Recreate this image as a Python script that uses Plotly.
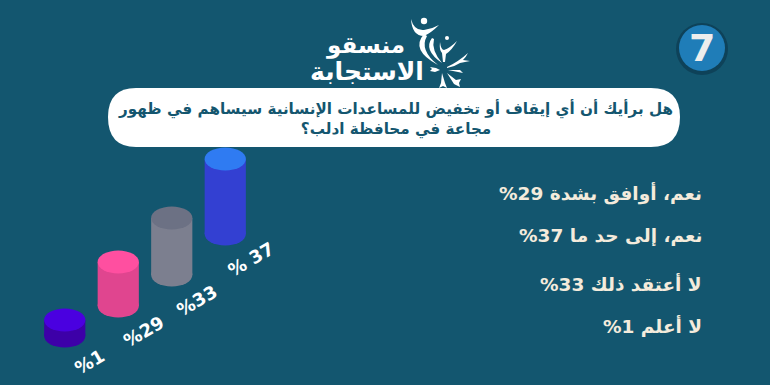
import plotly.graph_objects as go

# ---- data ----
answers = ["لا أعلم", "نعم، أوافق بشدة", "لا أعتقد ذلك", "نعم، إلى حد ما"]
bar_labels = ["%1", "%29", "%33", "% 37"]
drawn_heights = [16, 44, 57, 75]
drawn_floors = [49, 79, 110, 151]
body_colors = ["#3D00A8", "#E0458F", "#7C7F8F", "#3340D2"]
top_colors = ["#4A00E0", "#FF4FA0", "#6C7184", "#2F7BF2"]
legend_lines = ["نعم، أوافق بشدة 29%", "نعم، إلى حد ما 37%", "لا أعتقد ذلك 33%", "لا أعلم 1%"]
question = "هل برأيك أن أي إيقاف أو تخفيض للمساعدات الإنسانية سيساهم في ظهور<br>مجاعة في محافظة ادلب؟"
logo_top = "منسقو"
logo_bottom = "الاستجابة"
badge = "7"

BG = "#13566F"
FONT = "DejaVu Sans"
RLE, PDF = "\u202b", "\u202c"

fig = go.Figure()
fig.add_trace(go.Bar(
    x=list(range(len(answers))), y=drawn_heights, base=drawn_floors, width=0.77,
    marker=dict(color=body_colors, line=dict(width=0)),
    hovertext=answers, hoverinfo="text", showlegend=False,
))
# invisible trace that keeps the pixel-aligned decoration axes alive
fig.add_trace(go.Scatter(x=[0], y=[0], xaxis="x2", yaxis="y2", mode="markers",
                         marker=dict(opacity=0), hoverinfo="skip", showlegend=False))

shapes = []
RX, RY = 0.385, 11.5
for i, (h, f, bc, tc) in enumerate(zip(drawn_heights, drawn_floors, body_colors, top_colors)):
    shapes.append(dict(type="circle", xref="x", yref="y", x0=i - RX, x1=i + RX, y0=f - RY, y1=f + RY,
                       fillcolor=bc, line_width=0, layer="below"))
    shapes.append(dict(type="circle", xref="x", yref="y", x0=i - RX, x1=i + RX, y0=f + h - RY, y1=f + h + RY,
                       fillcolor=tc, line_width=0, layer="above"))


def deco(path, color="white"):
    shapes.append(dict(type="path", xref="x2", yref="y2", path=path, fillcolor=color, line_width=0, layer="below"))


def disc(cx, cy, r, color="white"):
    shapes.append(dict(type="circle", xref="x2", yref="y2", x0=cx - r, x1=cx + r, y0=cy - r, y1=cy + r,
                       fillcolor=color, line_width=0, layer="below"))


# question pill
deco("M136,88 L651,88 Q680,88 680,117 Q680,147 651,147 L136,147 Q108,147 108,117 Q108,88 136,88 Z")

# badge
disc(702, 49, 26, "#0E4259")
disc(702, 48, 23, "#1F7DB8")

# logo emblem
disc(424, 21, 3.2)
disc(447, 38, 2)
deco("M411,19 Q414,31 424,30 Q432,29 439,25 Q431,33 424,36 Q412,36 411,19 Z")
deco("M424,34 Q410,50 438,65 Q419,50 427,36 Z")
deco("M432,38 Q423,50 442,63 Q431,50 434,39 Z")
deco("M440,42 Q441,50 444,50 Q450,48 457,41 Q452,50 446,54 L445,62 L443,62 L442,53 Q439,50 440,42 Z")
deco("M447,67 Q458,62 468,53 Q466,57 463,60 L470,61 L460,63 Q454,67 447,68 Z")
deco("M448,70 L460,70 L463,73 Z")
deco("M447,73 L456,80 L461,79 L459,83 L460,87 L454,84 Z")
deco("M442,73 L445,83 L447,88 L443,86 L439,88 L441,83 Z")
deco("M440,70 L435,72 L430,71 L432,69 L430,67 L436,68 Z")

annotations = []
for i, (lab, h, f) in enumerate(zip(bar_labels, drawn_heights, drawn_floors)):
    annotations.append(dict(x=i, y=f, xref="x", yref="y", text=lab, showarrow=False, textangle=-30,
                            xshift=25, yshift=-25,
                            font=dict(family=FONT, size=18, color="white", weight="bold")))

annotations.append(dict(x=395, y=119, xref="x2", yref="y2", text=question, showarrow=False, align="center",
                        font=dict(family=FONT, size=15.2, color="#14566F", weight="bold")))
for line, y in zip(legend_lines, [193, 236, 284, 326]):
    annotations.append(dict(x=704, y=y, xref="x2", yref="y2", text=RLE + line + PDF, showarrow=False,
                            xanchor="right", font=dict(family=FONT, size=18.5, color="#F4EBDC", weight="bold")))
annotations.append(dict(x=365.5, y=45, xref="x2", yref="y2", text=logo_top, showarrow=False,
                        font=dict(family=FONT, size=23, color="white", weight="bold")))
annotations.append(dict(x=366.5, y=71, xref="x2", yref="y2", text=logo_bottom, showarrow=False,
                        font=dict(family=FONT, size=25, color="white", weight="bold")))
annotations.append(dict(x=702, y=48, xref="x2", yref="y2", text=badge, showarrow=False,
                        font=dict(family=FONT, size=38, color="#EDEDED", weight="bold")))

fig.update_layout(
    width=770, height=385, margin=dict(l=0, r=0, t=0, b=0),
    paper_bgcolor=BG, plot_bgcolor="rgba(0,0,0,0)", showlegend=False, barmode="overlay",
    xaxis=dict(domain=[38 / 770, 252 / 770], range=[-0.5, 3.5], visible=False, anchor="y"),
    yaxis=dict(domain=[0, 1], range=[0, 385], visible=False, anchor="x"),
    xaxis2=dict(domain=[0, 1], range=[0, 770], visible=False, anchor="y2"),
    yaxis2=dict(domain=[0, 1], range=[385, 0], visible=False, anchor="x2"),
    shapes=shapes, annotations=annotations,
)
fig.write_html("out.html", config=dict(displayModeBar=False),
               post_script="document.body.style.margin='0';document.body.style.overflow='hidden';document.body.style.background='" + BG + "';")
